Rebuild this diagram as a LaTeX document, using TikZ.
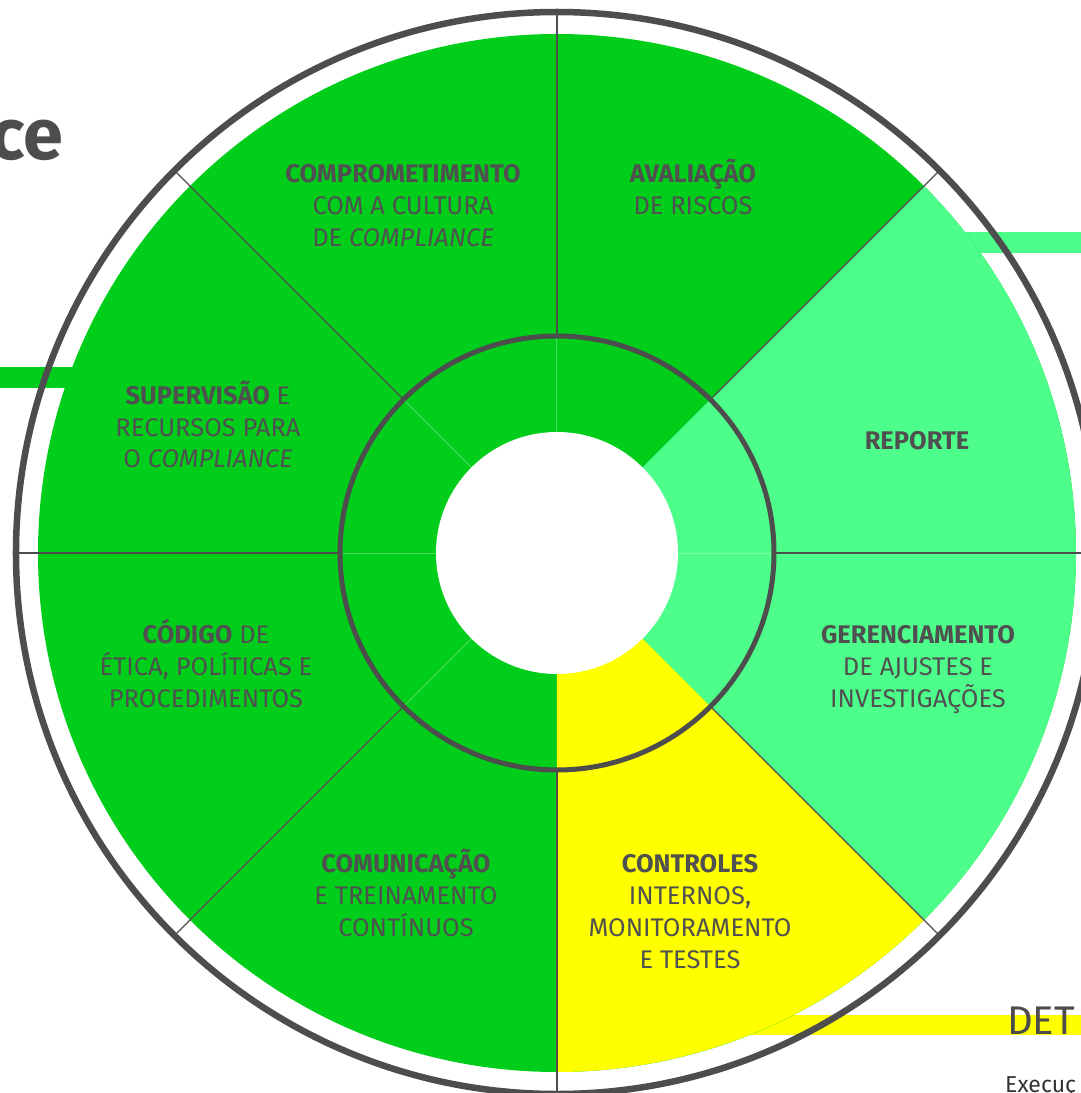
\documentclass[tikz,border=0pt]{standalone}
\usepackage{fontspec}
\setmainfont{Fira Sans}
\definecolor{leafgreen}{RGB}{0,206,26}
\definecolor{mint}{RGB}{77,255,138}
\definecolor{lemon}{RGB}{255,255,0}
\definecolor{ringgray}{RGB}{77,77,77}
\definecolor{inkgray}{RGB}{80,80,80}

\begin{document}
\begin{tikzpicture}[
            x=1pt, y=1pt,
            ring/.style={draw=ringgray, line width=6.5pt},
            midring/.style={draw=ringgray, line width=5pt},
            divider/.style={draw=ringgray, line width=1.4pt},
            faint/.style={draw=white, opacity=0.3, line width=1pt},
            sectxt/.style={text=inkgray, align=center, anchor=base, inner sep=0pt,
                font=\fontsize{25.5}{32}\selectfont}]

        \useasboundingbox (-557,-540) rectangle (524,553);

        % bars running out of the wheel
        \fill[leafgreen] (-557,165) rectangle (-450,186);
        \fill[mint] (340,300) rectangle (524,321);
        \fill[lemon] (170,-482) rectangle (524,-462);

        \node[anchor=base east, inner sep=0pt, text=ringgray,
            font=\fontsize{72}{72}\selectfont\bfseries] (titletail) at (-494,393) {ce};
        \node[anchor=base west, inner sep=0pt, text=ringgray,
            font=\fontsize{40}{40}\selectfont] (dettag) at (450,-481) {DET};
        \node[anchor=base west, inner sep=0pt, text=black!80,
            font=\fontsize{23}{23}\selectfont] (exectxt) at (448,-539) {Execuç};

        % the wheel
        \fill[leafgreen] (0,0) circle[radius=519];
        \fill[mint] (0,0) -- (-45:519) arc[start angle=-45, end angle=45, radius=519] -- cycle;
        \fill[lemon] (0,0) -- (-90:519) arc[start angle=-90, end angle=-45, radius=519] -- cycle;
        \fill[white] (0,0) circle[radius=121];

        \foreach \a in {0,90,135,180,225}
            \draw[faint] (\a:121) -- (\a:217);
        \foreach \a in {0,45,...,315}
            \draw[divider] (\a:217) -- (\a:541);

        \draw[midring] (0,0) circle[radius=217];
        \draw[ring] (0,0) circle[radius=541];

        % labels sit on the baseline of their last line
        \node[sectxt] (commit) at (-154,306) {\textbf{COMPROMETIMENTO}\\COM A CULTURA\\DE \textit{COMPLIANCE}};
        \node[sectxt] (risk) at (136,338) {\textbf{AVALIAÇÃO}\\DE RISCOS};
        \node[sectxt] (supervision) at (-349,85) {\textbf{SUPERVISÃO} E\\RECURSOS PARA\\O \textit{COMPLIANCE}};
        \node[sectxt] (report) at (360,104) {\textbf{REPORTE}};
        \node[sectxt] (code) at (-351,-154) {\textbf{CÓDIGO} DE\\ÉTICA, POLÍTICAS E\\PROCEDIMENTOS};
        \node[sectxt] (handling) at (361,-154) {\textbf{GERENCIAMENTO}\\DE AJUSTES E\\INVESTIGAÇÕES};
        \node[sectxt] (training) at (-151,-383) {\textbf{COMUNICAÇÃO}\\E TREINAMENTO\\CONTÍNUOS};
        \node[sectxt] (controls) at (133,-415) {\textbf{CONTROLES}\\INTERNOS,\\MONITORAMENTO\\E TESTES};
    \end{tikzpicture}
\end{document}
